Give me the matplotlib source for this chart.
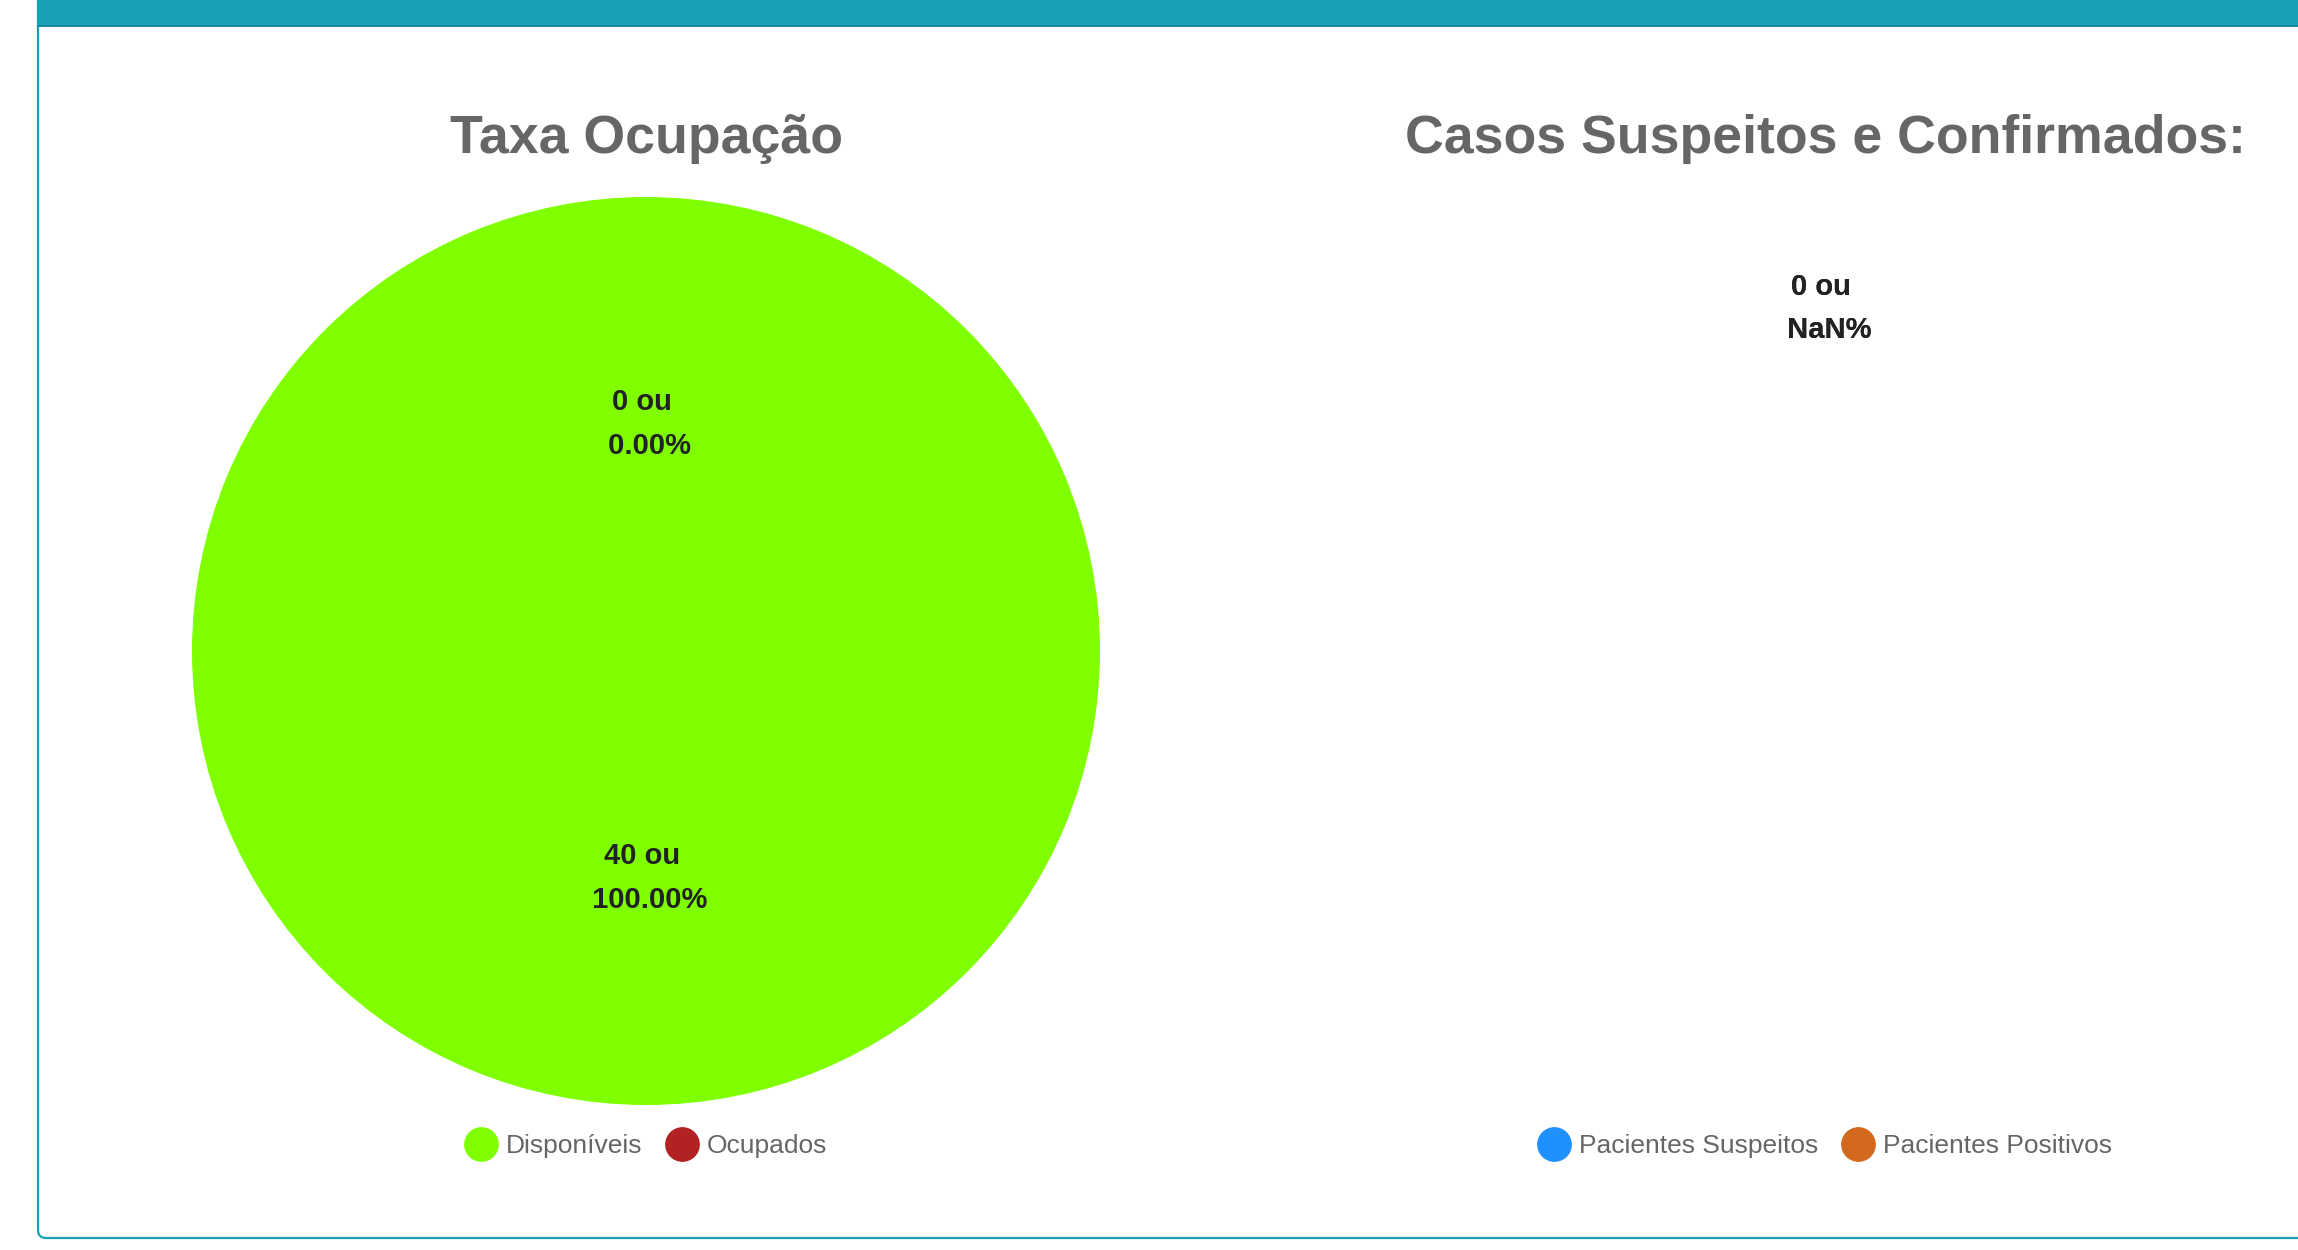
import matplotlib
matplotlib.use('agg')
import matplotlib.pyplot as plt
from matplotlib.patches import FancyBboxPatch, Rectangle
from matplotlib.lines import Line2D
from matplotlib.transforms import IdentityTransform
import numpy as np

plt.rcParams['font.family'] = ['Liberation Sans', 'DejaVu Sans']

# dados
titulo_ocupacao = 'Taxa Ocupação'
rotulos_ocupacao = ['Disponíveis', 'Ocupados']
valores_ocupacao = [40, 0]
cores_ocupacao = ['#7FFF00', '#B22222']

titulo_casos = 'Casos Suspeitos e Confirmados:'
rotulos_casos = ['Pacientes Suspeitos', 'Pacientes Positivos']
valores_casos = [0, 0]
cores_casos = ['#1E90FF', '#D2691E']

W, H = 2298, 1250
fig = plt.figure(figsize=(W / 100, H / 100), dpi=100)
fig.patch.set_facecolor('white')

# cartao (borda teal + barra superior)
card = FancyBboxPatch((38, 12), W + 40, H, boxstyle='round,pad=0,rounding_size=8',
                      transform=IdentityTransform(), facecolor='white',
                      edgecolor='#17a2b8', linewidth=1.6, zorder=-3)
fig.patches.append(card)
fig.patches.append(Rectangle((37, H - 25), W, 25, transform=IdentityTransform(),
                             facecolor='#18a2b8', edgecolor='none', zorder=-2))
fig.patches.append(Rectangle((37, H - 27), W, 2.5, transform=IdentityTransform(),
                             facecolor='#12899c', edgecolor='none', zorder=-2))


def desenha_pizza(cx, titulo, rotulos, valores, cores):
    # cx em pixels, centro da pizza
    cy, r = 651, 454
    ax = fig.add_axes([(cx - r) / W, (H - cy - r) / H, 2 * r / W, 2 * r / H])
    ax.patch.set_visible(False)
    total = sum(valores)
    if total > 0:
        ax.pie(valores, colors=cores, startangle=90, counterclock=False,
               radius=1, wedgeprops=dict(linewidth=0))
    ax.set_xlim(-1, 1)
    ax.set_ylim(-1, 1)
    ax.set_aspect('equal')
    ax.axis('off')
    # rotulos de dados (estilo datalabels)
    inicio = 0.0
    for v in valores:
        if total > 0:
            frac = v / total
            pct = '%.2f%%' % (frac * 100)
            meio = inicio + frac / 2
            inicio += frac
            dist = 0.5
        else:
            pct = 'NaN%'
            meio = 0.0
            dist = 0.755
        ang = np.pi / 2 - 2 * np.pi * meio
        ax.text(dist * np.cos(ang), dist * np.sin(ang), '%d ou \n %s' % (v, pct),
                ha='center', va='center', fontsize=21, fontweight='bold',
                color='#222222', linespacing=1.7)
    fig.text(cx / W, 1 - 139 / H, titulo, ha='center', va='center',
             fontsize=38.6, fontweight='bold', color='#666666')
    handles = [Line2D([], [], marker='o', linestyle='none', markersize=24,
                      markerfacecolor=c, markeredgecolor=c) for c in cores]
    fig.legend(handles, rotulos, loc='center', ncol=2, frameon=False,
               bbox_to_anchor=(cx / W, 1 - 1146 / H), fontsize=19,
               labelcolor='#666666', handletextpad=0.35, columnspacing=0.9,
               handlelength=1.2)


desenha_pizza(646, titulo_ocupacao, rotulos_ocupacao, valores_ocupacao, cores_ocupacao)
desenha_pizza(1825, titulo_casos, rotulos_casos, valores_casos, cores_casos)

plt.savefig('out.png', dpi=100)
plt.close()
